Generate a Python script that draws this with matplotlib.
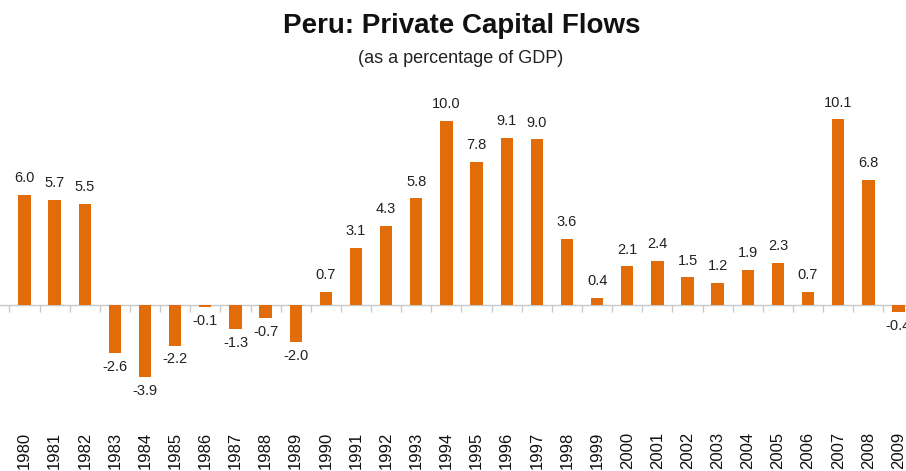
import matplotlib
matplotlib.use('Agg')
import matplotlib.pyplot as plt
import numpy as np

plt.rcParams['font.family'] = ['Liberation Sans', 'DejaVu Sans']

# private capital flows, % of GDP
years = list(range(1980, 2010))
flows = [6.0, 5.7, 5.5, -2.6, -3.9, -2.2, -0.1, -1.3, -0.7, -2.0,
         0.7, 3.1, 4.3, 5.8, 10.0, 7.8, 9.1, 9.0, 3.6, 0.4,
         2.1, 2.4, 1.5, 1.2, 1.9, 2.3, 0.7, 10.1, 6.8, -0.4]

bar_color = '#E36C0A'

fig = plt.figure(figsize=(9.06, 4.71), dpi=100)
ax = fig.add_axes([0, 0.1507, 1, 0.658])

x = np.arange(len(years))
ax.bar(x, flows, width=0.41, color=bar_color, zorder=2)

# zero line with small ticks between bars
ax.axhline(0, color='#c8c8c8', lw=1, zorder=1)
ax.vlines(np.arange(-0.5, len(years), 1), -0.38, 0, color='#c8c8c8', lw=1, zorder=1)

for xi, v in zip(x, flows):
    if v >= 0:
        ax.annotate(f'{v:.1f}', (xi, v), xytext=(0, 7), textcoords='offset points',
                    ha='center', va='bottom', fontsize=10.5, color='#222222')
    else:
        ax.annotate(f'{v:.1f}', (xi, v), xytext=(0, -5), textcoords='offset points',
                    ha='center', va='top', fontsize=10.5, color='#222222')

ax.set_xlim(-0.813, 29.25)
ax.set_ylim(-5.163, 11.685)
ax.set_xticks(x)
ax.set_xticklabels([str(y) for y in years], rotation=90, fontsize=12, color='#111111')
ax.tick_params(axis='x', length=0, pad=23)
ax.set_yticks([])
for s in ax.spines.values():
    s.set_visible(False)

fig.text(0.51, 0.930, 'Peru: Private Capital Flows', ha='center', va='baseline',
         fontsize=20, fontweight='bold', color='#111111')
fig.text(0.508, 0.866, '(as a percentage of GDP)', ha='center', va='baseline',
         fontsize=13, color='#222222')

fig.savefig('out.png', dpi=100)
